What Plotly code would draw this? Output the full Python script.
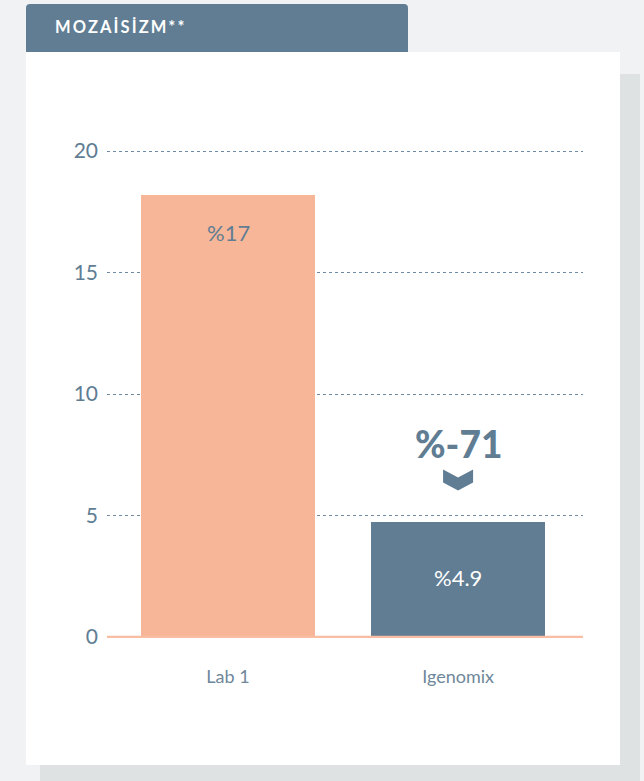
import plotly.graph_objects as go

# ---- data ----
categories = ["Lab 1", "Igenomix"]
values = [18.2, 4.75]
bar_labels = ["%17", "%4.9"]
change_label = "%-71"
y_ticks = [0, 5, 10, 15, 20]
title_text = "MOZAİSİZM**"

# ---- styling ----
SLATE = "#607d93"
GRID = "#6f8aa0"
SALMON = "#f7b698"
BG = "#f0f2f4"
SHADOW = "#dfe2e2"
FONT = "Lato"

W, H = 644, 781
ML, MR, MT, MB = 107, 61, 139, 132
PW, PH = W - ML - MR, H - MT - MB


def px_x(p):
    return (p - ML) / PW


def px_y(p):
    return (H - MB - p) / PH


fig = go.Figure()
fig.add_trace(go.Bar(
    x=categories, y=values,
    marker=dict(color=[SALMON, SLATE], line=dict(width=0)),
    width=0.757,
    hoverinfo="skip",
))

shapes = []
# shadow card
shapes.append(dict(type="rect", xref="paper", yref="paper",
                   x0=px_x(40), x1=px_x(640), y0=px_y(800), y1=px_y(74),
                   fillcolor=SHADOW, line=dict(width=0), layer="below"))
# white card
shapes.append(dict(type="rect", xref="paper", yref="paper",
                   x0=px_x(26), x1=px_x(620), y0=px_y(765), y1=px_y(52),
                   fillcolor="white", line=dict(width=0), layer="below"))
# header tab with rounded top corners
r = 4
hx0, hx1, hy0, hy1 = 26, 408, 4, 52
path = (f"M {px_x(hx0)},{px_y(hy1)} L {px_x(hx0)},{px_y(hy0 + r)} "
        f"Q {px_x(hx0)},{px_y(hy0)} {px_x(hx0 + r)},{px_y(hy0)} "
        f"L {px_x(hx1 - r)},{px_y(hy0)} Q {px_x(hx1)},{px_y(hy0)} {px_x(hx1)},{px_y(hy0 + r)} "
        f"L {px_x(hx1)},{px_y(hy1)} Z")
shapes.append(dict(type="path", xref="paper", yref="paper", path=path,
                   fillcolor=SLATE, line=dict(width=0), layer="below"))
# zero line
shapes.append(dict(type="line", xref="paper", yref="y", x0=0, x1=1, y0=0, y1=0,
                   line=dict(color="#f8bda2", width=2.2), layer="above"))
# chevron above second bar
shapes.append(dict(type="path", xref="x", yref="y", xsizemode="pixel", ysizemode="pixel",
                   xanchor=1, yanchor=values[1],
                   path="M -15,52 L 0,44 L 15,52 L 15,39 L 0,31 L -15,39 Z",
                   fillcolor=SLATE, line=dict(width=0), layer="above"))

annotations = [
    dict(x=0, y=values[0], xref="x", yref="y", text=bar_labels[0], showarrow=False,
         yshift=-38, font=dict(family=FONT, size=22, color=SLATE)),
    dict(x=1, y=values[1] / 2, xref="x", yref="y", text=bar_labels[1], showarrow=False,
         yshift=2, font=dict(family=FONT, size=22, color="white")),
    dict(x=1, y=values[1], xref="x", yref="y", text=change_label, showarrow=False,
         yshift=78, font=dict(family=FONT, size=37, color=SLATE, weight=900)),
    dict(x=px_x(53), y=px_y(27), xref="paper", yref="paper", text="\u2009".join(title_text),
         showarrow=False, xanchor="left", yanchor="middle",
         font=dict(family=FONT, size=16.5, color="white", weight="bold")),
]

fig.update_layout(
    width=W, height=H,
    margin=dict(l=ML, r=MR, t=MT, b=MB, pad=0),
    paper_bgcolor=BG, plot_bgcolor="rgba(0,0,0,0)",
    showlegend=False, bargap=0,
    shapes=shapes, annotations=annotations,
    xaxis=dict(range=[-0.526, 1.543], showgrid=False, zeroline=False, showline=False,
               ticks="", ticklabelstandoff=15,
               tickfont=dict(family=FONT, size=18, color="#6f879a"), fixedrange=True),
    yaxis=dict(range=[-0.5, 20.5], tickvals=y_ticks, showgrid=True, gridcolor=GRID,
               griddash="dot", gridwidth=1.3, zeroline=False, showline=False,
               ticks="", ticklabelstandoff=8,
               tickfont=dict(family=FONT, size=21, color=SLATE), fixedrange=True),
)

fig.write_html("out.html", config={"displayModeBar": False},
               post_script="document.body.style.margin='0';document.body.style.overflow='hidden';")
